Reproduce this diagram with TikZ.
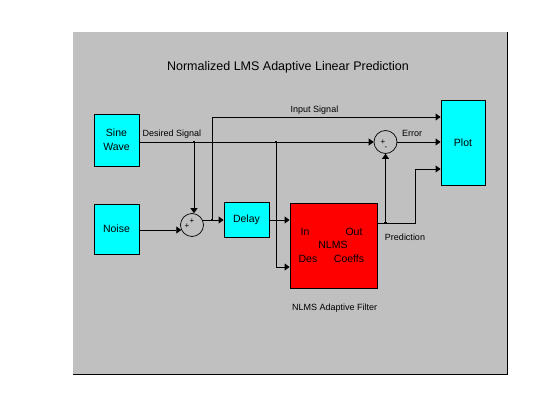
\documentclass[tikz,border=0pt]{standalone}
\usepackage{fontspec}
\setmainfont{Liberation Sans}
\usetikzlibrary{arrows.meta}
\definecolor{bggray}{RGB}{192,192,192}
\definecolor{blkcyan}{RGB}{0,255,255}
\definecolor{blkred}{RGB}{255,0,0}
\begin{document}
\begin{tikzpicture}[x=1pt,y=-1pt,
  blk/.style={draw=black, line width=0.9pt, inner sep=0pt, font=\fontsize{10.5}{14}\selectfont, align=center},
  sumc/.style={draw=black, line width=0.7pt, circle, minimum size=23pt, inner sep=0pt},
  wire/.style={line width=0.9pt},
  sig/.style={wire, -{Triangle[length=5pt,width=7pt]}},
  lbl/.style={inner sep=0pt, font=\fontsize{9}{10}\selectfont},
  inl/.style={inner sep=0pt, font=\fontsize{10.5}{12}\selectfont},
  sgn/.style={inner sep=0pt, font=\fontsize{8}{8}\selectfont},
  jdot/.style={fill=black, inner sep=0pt, minimum size=2.5pt, rectangle}]
\useasboundingbox (0,0) rectangle (560,420);
\fill[white] (0,0) rectangle (560,420);
\fill[bggray] (73,32) rectangle (507,374);
\draw[line width=1pt] (507,32) -- (507,374) -- (73,374);

\node[font=\fontsize{12.5}{14}\selectfont, inner sep=0pt] (title) at (288,67) {Normalized LMS Adaptive Linear Prediction};

\node[blk, fill=blkcyan, minimum width=45pt, minimum height=52pt] (sine) at (116.5,140) {Sine\\Wave};
\node[blk, fill=blkcyan, minimum width=45pt, minimum height=50pt] (noise) at (116.5,229) {Noise};
\node[sumc] (sum1) at (192,225) {};
\node[blk, fill=blkcyan, minimum width=45pt, minimum height=35pt] (delay) at (246.5,220) {Delay};
\node[blk, fill=blkred, minimum width=87pt, minimum height=85pt] (nlms) at (333.5,245.5) {};
\node[sumc] (sum2) at (385.5,142) {};
\node[blk, fill=blkcyan, minimum width=44pt, minimum height=85pt] (plot) at (463,142.5) {Plot};

\node[inl] (tin) at (305,232) {In};
\node[inl] (tout) at (354,232) {Out};
\node[inl] (tnlms) at (333,245) {NLMS};
\node[inl] (tdes) at (308,259) {Des};
\node[inl] (tcoef) at (349,259) {Coeffs};

\node[sgn] (s1a) at (192,221) {+};
\node[sgn] (s1b) at (187,226) {+};
\node[sgn] (s2a) at (383,142) {+};
\node[sgn] (s2b) at (386,148) {-};

\coordinate (d1) at (194,142);
\coordinate (d2) at (276,142);
\coordinate (b1) at (212,220);
\coordinate (b4) at (385.5,223);
\coordinate (c1) at (415,223);
\coordinate (pin1) at (plot.west |- 0,117);
\coordinate (pin3) at (plot.west |- 0,169);
\coordinate (pdes) at (nlms.west |- 0,267);
\coordinate (pout) at (nlms.east |- 0,223);

\draw[sig] (sine.east |- sum2.west) -- (sum2.west);
\draw[sig] (d1) -- (d1 |- sum1.north);
\draw[sig] (noise.east |- sum1.205) -- (sum1.205);
\draw[sig] (sum1.25) -- (sum1.25 -| delay.west);
\draw[sig] (b1) |- (pin1);
\draw[sig] (delay.east) -- (delay.east -| nlms.west);
\draw[sig] (d2) |- (pdes);
\draw[sig] (pout) -- (c1) |- (pin3);
\draw[sig] (b4) -- (sum2.south);
\draw[sig] (sum2.east) -- (sum2.east -| plot.west);

\node[jdot] (j1) at (d1) {};
\node[jdot] (j2) at (d2) {};
\node[jdot] (j3) at (b1) {};
\node[jdot] (j4) at (b4) {};

\node[lbl] (lds) at (172,134) {Desired Signal};
\node[lbl] (lin) at (314.5,110) {Input Signal};
\node[lbl] (lerr) at (412,133) {Error};
\node[lbl] (lpred) at (405,237) {Prediction};
\node[lbl] (lnf) at (334.7,308) {NLMS Adaptive Filter};
\end{tikzpicture}
\end{document}
